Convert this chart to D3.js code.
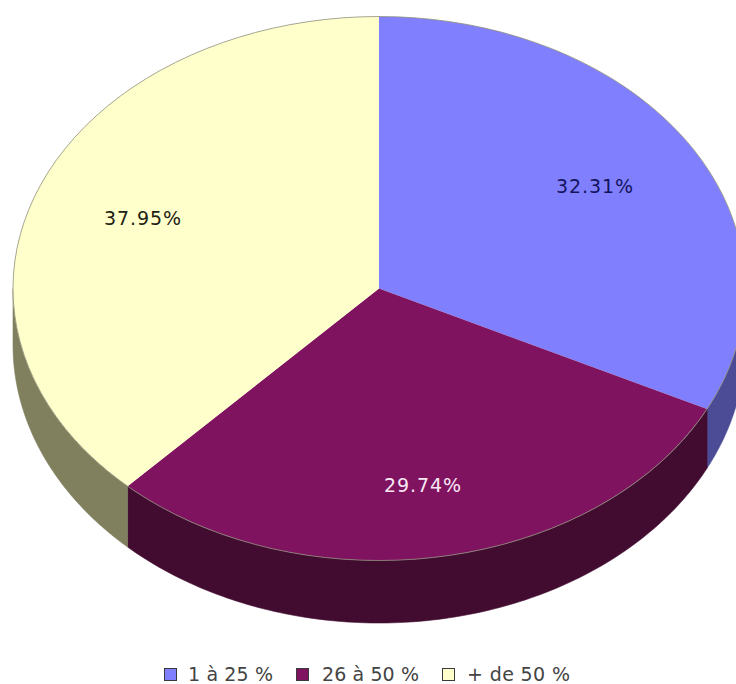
<!DOCTYPE html>
<html>
<head>
<meta charset="utf-8">
<script src="https://cdn.jsdelivr.net/npm/d3@7/dist/d3.min.js"></script>
<style>
html,body{margin:0;padding:0;background:#fff}
svg{display:block}
text{font-family:"DejaVu Sans",sans-serif}
</style>
</head>
<body>
<svg id="chart" width="736" height="684"></svg>
<script>
// Share of respondents per bracket
const categories = ["1 à 25 %", "26 à 50 %", "+ de 50 %"];
const shares = [32.31, 29.74, 37.95];
const topColours = ["#8080ff", "#801360", "#ffffcc"];
const wallColours = ["#4b4b96", "#420c30", "#80805f"];
const labelColours = ["#14145e", "#f8e8f4", "#222214"];

const cx = 379, cy = 288.5, rx = 366, ry = 272;
// The lower rim is a slightly rounder ellipse than the upper one
const rimCy = 345, rimRy = 278;

const svg = d3.select("#chart");

// Clockwise from twelve o'clock, no sorting so the order stays as listed
const pie = d3.pie().sort(null).startAngle(0).endAngle(2 * Math.PI);
const slices = pie(shares);

// Projection of a polar position onto the tilted disc and its lower rim
const px = d3.scaleLinear().domain([-1, 1]).range([cx - rx, cx + rx]);
const py = d3.scaleLinear().domain([-1, 1]).range([cy - ry, cy + ry]);
const rimY = d3.scaleLinear().domain([-1, 1]).range([rimCy - rimRy, rimCy + rimRy]);
const upperPoint = a => [px(Math.sin(a)), py(-Math.cos(a))];
const lowerPoint = a => [px(Math.sin(a)), rimY(-Math.cos(a))];

// Only the front half of the rim (90° to 270°) is visible
const frontStart = Math.PI / 2, frontEnd = 3 * Math.PI / 2;
const walls = svg.append("g");
slices.forEach((s, i) => {
  const a0 = Math.max(s.startAngle, frontStart);
  const a1 = Math.min(s.endAngle, frontEnd);
  if (a1 <= a0) return;
  const angles = d3.range(0, 121).map(j => a0 + (a1 - a0) * j / 120);
  const outline = angles.map(upperPoint)
    .concat(angles.slice().reverse().map(lowerPoint));
  walls.append("path")
    .attr("d", d3.line()(outline) + "Z")
    .attr("fill", wallColours[i])
    .attr("stroke", wallColours[i])
    .attr("stroke-width", 0.6);
});

// Top surface: d3.arc on a unit circle, stretched into the ellipse
const arc = d3.arc().innerRadius(0).outerRadius(1);
const disc = svg.append("g")
  .attr("transform", `translate(${cx},${cy}) scale(${rx},${ry})`);
disc.selectAll("path")
  .data(slices)
  .join("path")
  .attr("d", arc)
  .attr("fill", (d, i) => topColours[i]);

// Thin grey rim on the disc
svg.append("ellipse")
  .attr("cx", cx).attr("cy", cy).attr("rx", rx).attr("ry", ry)
  .attr("fill", "none").attr("stroke", "#8f8f7c").attr("stroke-width", 0.8);

// Percentage labels
const labelSpots = [[556, 193], [384, 492], [104, 225]];
svg.append("g").selectAll("text")
  .data(slices)
  .join("text")
  .attr("x", (d, i) => labelSpots[i][0])
  .attr("y", (d, i) => labelSpots[i][1])
  .attr("font-size", 19)
  .attr("textLength", 77)
  .attr("lengthAdjust", "spacing")
  .attr("fill", (d, i) => labelColours[i])
  .text(d => d.data.toFixed(2) + "%");

// Legend along the bottom edge
const legendX = [164, 296, 442];
const legendTextX = [24, 26, 25];
const legendTextLen = [85, 97, 103];
const legend = svg.append("g").selectAll("g")
  .data(categories)
  .join("g")
  .attr("transform", (d, i) => `translate(${legendX[i]},668)`);
legend.append("rect")
  .attr("x", 0.5).attr("y", 0.5).attr("width", 12).attr("height", 12)
  .attr("fill", (d, i) => topColours[i])
  .attr("stroke", "#3a3a3a").attr("stroke-width", 1);
legend.append("text")
  .attr("x", (d, i) => legendTextX[i]).attr("y", 13)
  .attr("font-size", 19)
  .attr("fill", "#444")
  .attr("textLength", (d, i) => legendTextLen[i])
  .attr("lengthAdjust", "spacing")
  .text(d => d);
</script>
</body>
</html>
